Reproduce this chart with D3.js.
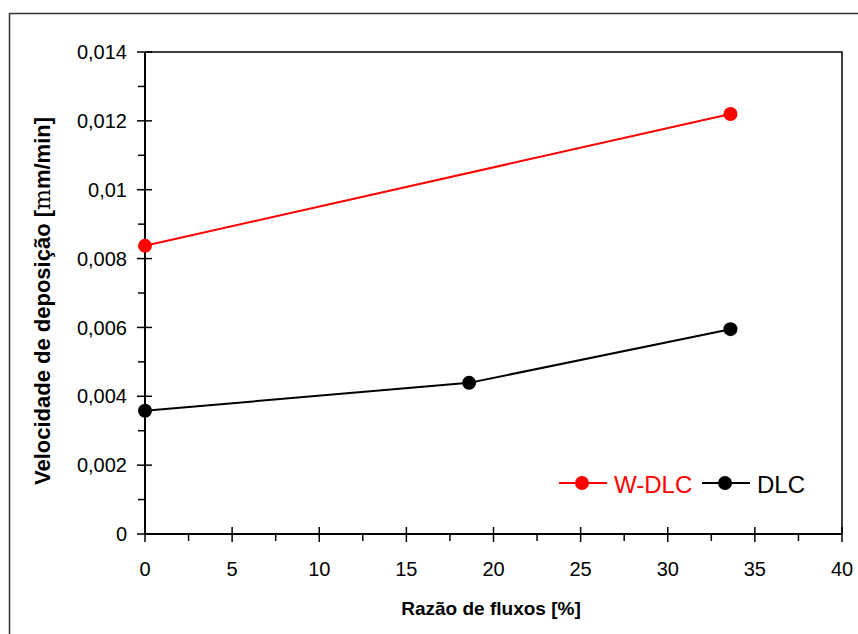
<!DOCTYPE html>
<html>
<head>
<meta charset="utf-8">
<script src="https://cdn.jsdelivr.net/npm/d3@7/dist/d3.min.js"></script>
<style>
  html, body { margin: 0; padding: 0; background: #fff; }
  svg { display: block; font-family: "Liberation Sans", Arial, sans-serif; }
</style>
</head>
<body>
<div id="chart"></div>
<script>
// data
var seriesNames = ["W-DLC", "DLC"];
var seriesColors = ["#ff0000", "#000000"];
var wdlcX = [0, 33.6];
var wdlcY = [0.00837, 0.0122];
var dlcX = [0, 18.6, 33.6];
var dlcY = [0.00358, 0.00439, 0.00595];
var xTicks = [0, 5, 10, 15, 20, 25, 30, 35, 40];
var yTicks = [0, 0.002, 0.004, 0.006, 0.008, 0.01, 0.012, 0.014];

var W = 858, H = 634;
var margin = {left: 145, top: 52, right: 16, bottom: 100};

var svg = d3.select("#chart").append("svg")
  .attr("width", W)
  .attr("height", H);

// outer frame
svg.append("rect")
  .attr("x", 9.5).attr("y", 13.5)
  .attr("width", 870).attr("height", 650)
  .style("fill", "none")
  .style("stroke", "#333")
  .style("stroke-width", "1.5px");

var x = d3.scaleLinear().domain([0, 40]).range([margin.left, W - margin.right]);
var y = d3.scaleLinear().domain([0, 0.014]).range([H - margin.bottom, margin.top]);

var fmtY = function(d){ return d === 0 ? "0" : String(+d.toFixed(3)).replace(".", ","); };

// top + right lines of plot box
svg.append("path")
  .attr("d", "M" + x(0) + "," + y(0.014) + "H" + x(40) + "V" + y(0))
  .style("fill", "none")
  .style("stroke", "#000")
  .style("stroke-width", "1.5px");

// minor ticks
var yMinor = d3.range(0.001, 0.014, 0.002);
svg.selectAll(".ymin").data(yMinor).enter().append("line")
  .attr("x1", x(0) - 7).attr("x2", x(0))
  .attr("y1", function(d){ return y(d); }).attr("y2", function(d){ return y(d); })
  .style("stroke", "#000").style("stroke-width", "1.5px");

var xMinor = d3.range(2.5, 40, 5);
svg.selectAll(".xmin").data(xMinor).enter().append("line")
  .attr("y1", y(0)).attr("y2", y(0) + 7)
  .attr("x1", function(d){ return x(d); }).attr("x2", function(d){ return x(d); })
  .style("stroke", "#000").style("stroke-width", "1.5px");

// major ticks crossing the axis
svg.selectAll(".ymaj").data(yTicks).enter().append("line")
  .attr("x1", x(0) - 8).attr("x2", x(0) + 7)
  .attr("y1", function(d){ return y(d); }).attr("y2", function(d){ return y(d); })
  .style("stroke", "#000").style("stroke-width", "1.5px");

svg.selectAll(".xmaj").data(xTicks).enter().append("line")
  .attr("y1", y(0) - 7).attr("y2", y(0) + 8)
  .attr("x1", function(d){ return x(d); }).attr("x2", function(d){ return x(d); })
  .style("stroke", "#000").style("stroke-width", "1.5px");

// axis lines
svg.append("line")
  .attr("x1", x(0)).attr("x2", x(0)).attr("y1", y(0.014)).attr("y2", y(0))
  .style("stroke", "#000").style("stroke-width", "2px");
svg.append("line")
  .attr("x1", x(0)).attr("x2", x(40)).attr("y1", y(0)).attr("y2", y(0))
  .style("stroke", "#000").style("stroke-width", "2px");

// tick labels
svg.selectAll(".ylab").data(yTicks).enter().append("text")
  .attr("x", x(0) - 18)
  .attr("y", function(d){ return y(d); })
  .attr("dy", "0.36em")
  .attr("text-anchor", "end")
  .style("font-size", "20px")
  .text(fmtY);

svg.selectAll(".xlab").data(xTicks).enter().append("text")
  .attr("x", function(d){ return x(d); })
  .attr("y", y(0) + 42)
  .attr("text-anchor", "middle")
  .style("font-size", "20px")
  .text(function(d){ return d; });

// axis titles
svg.append("text")
  .attr("x", 491).attr("y", 615)
  .attr("text-anchor", "middle")
  .style("font-size", "19px")
  .style("font-weight", "bold")
  .text("Razão de fluxos [%]");

var yt = svg.append("text")
  .attr("transform", "translate(50,301) rotate(-90)")
  .attr("text-anchor", "middle")
  .style("font-size", "22px")
  .style("font-weight", "bold");
yt.append("tspan").text("Velocidade de deposição [");
yt.append("tspan").style("font-family", "'DejaVu Serif', serif").style("font-weight", "normal").text("m");
yt.append("tspan").text("m/min]");

// series
var data = [
  d3.zip(wdlcX, wdlcY),
  d3.zip(dlcX, dlcY)
];
var line = d3.line().x(function(d){ return x(d[0]); }).y(function(d){ return y(d[1]); });

data.forEach(function(s, i){
  svg.append("path")
    .datum(s)
    .attr("d", line)
    .style("fill", "none")
    .style("stroke", seriesColors[i])
    .style("stroke-width", "2px");
  svg.selectAll(".pt" + i).data(s).enter().append("circle")
    .attr("cx", function(d){ return x(d[0]); })
    .attr("cy", function(d){ return y(d[1]); })
    .attr("r", 7)
    .style("fill", seriesColors[i]);
});

// legend
var legX = [559, 702];
var legY = 483;
seriesNames.forEach(function(name, i){
  var g = svg.append("g");
  g.append("line")
    .attr("x1", legX[i]).attr("x2", legX[i] + 48)
    .attr("y1", legY).attr("y2", legY)
    .style("stroke", seriesColors[i]).style("stroke-width", "2px");
  g.append("circle")
    .attr("cx", legX[i] + 23).attr("cy", legY).attr("r", 7)
    .style("fill", seriesColors[i]);
  g.append("text")
    .attr("x", legX[i] + 55).attr("y", legY + 10)
    .style("font-size", "24px")
    .style("fill", seriesColors[i])
    .text(name);
});
</script>
</body>
</html>
